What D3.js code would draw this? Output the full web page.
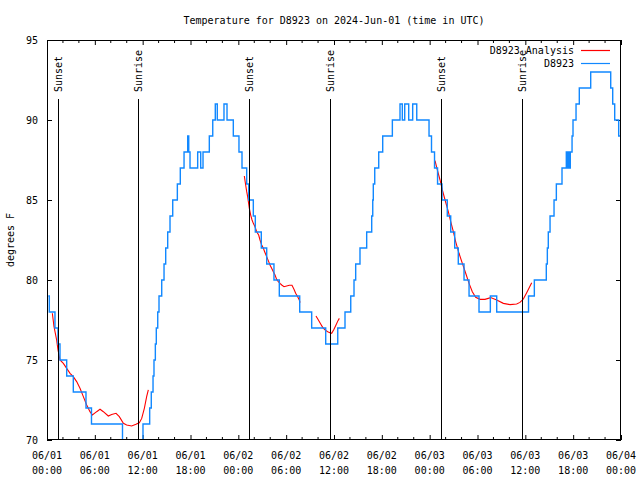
<!DOCTYPE html>
<html><head><meta charset="utf-8">
<script src="https://cdn.jsdelivr.net/npm/d3@7"></script>
<style>
body{margin:0;background:#fff}
svg{display:block;background:#fff}
text{font-family:"DejaVu Sans Mono","Liberation Mono",monospace;font-size:10px;fill:#000}
</style></head><body>
<svg id="c" width="640" height="480"></svg>
<script>
const chartTitle = "Temperature for D8923 on 2024-Jun-01 (time in UTC)";
const yLabel = "degrees F";
const seriesNames = ["D8923 Analysis", "D8923"];
const seriesColors = ["#ff0000", "#1188ff"];
const startTime = "2024-06-01T00:00:00Z";
const endTime = "2024-06-04T00:00:00Z";
const yDomain = [70, 95];
const yTicks = [70, 75, 80, 85, 90, 95];
const sunsetHours = [1.32, 25.37, 49.44];
const sunriseHours = [11.45, 35.52, 59.52];

// Observed D8923 (hours since start, temperature F) - value holds until next change
const obsHours = [0.16,0.29,1.00,1.38,1.63,2.47,3.30,4.89,5.58,9.47,
9.66,9.85,11.67,11.85,12.04,12.88,13.08,13.30,13.42,13.59,
13.71,13.89,14.05,14.39,14.68,14.89,15.14,15.43,15.77,16.35,
16.72,17.19,17.65,17.78,17.94,18.90,19.28,19.57,20.36,20.79,
21.11,21.36,22.20,22.58,23.37,24.08,24.46,25.05,25.30,25.88,
26.13,26.88,27.56,28.47,29.14,31.70,33.20,34.96,36.47,37.38,
38.10,38.51,38.72,39.26,40.10,40.73,40.86,40.93,41.11,41.61,
42.11,43.32,44.28,44.57,44.87,45.37,45.87,46.38,47.92,48.23,
48.61,48.99,49.55,50.21,50.64,51.14,51.59,52.31,52.94,54.19,
55.61,56.41,60.40,61.13,62.63,62.76,62.88,63.10,63.60,63.89,
64.60,65.14,65.27,65.39,65.52,65.64,65.86,65.98,66.36,66.77,
68.20,70.71,70.96,71.21,71.71,71.88];
const obsTemps = [79,78,77,76,75,74,73,72,71,70,
69,68,69,70,71,72,73,74,75,76,
77,78,79,80,81,82,83,84,85,86,
87,88,89,88,87,88,87,88,89,90,
91,90,91,90,89,88,87,86,85,84,
83,82,81,80,79,78,77,76,77,78,
79,80,81,82,83,84,85,86,87,88,
89,90,91,90,91,90,91,90,89,88,
87,86,85,84,83,82,81,80,79,78,
79,78,79,80,81,82,83,84,85,86,
87,88,87,88,87,88,89,90,91,92,
93,92,91,90,89,89];

// Analysis (null = gap)
const anaHours = [0.67,0.88,1.21,1.38,1.63,2.05,2.47,2.89,3.30,3.72,4.14,4.56,4.98,5.39,5.69,6.23,6.65,7.07,7.69,8.11,8.66,9.07,9.58,9.99,10.62,11.16,11.58,11.88,12.21,12.50,12.71,null,
24.75,24.92,25.05,25.17,25.38,25.55,25.72,25.88,26.09,26.30,26.55,26.72,26.93,27.14,27.30,27.47,27.64,27.81,27.97,28.18,28.39,28.60,28.81,29.02,29.23,29.44,29.73,30.06,30.40,30.73,30.98,31.19,31.44,31.65,31.74,null,
33.74,34.04,34.33,34.58,34.87,35.21,35.50,35.71,36.00,36.25,36.50,36.67,null,
48.67,48.96,49.30,49.59,49.93,50.34,50.64,50.97,51.26,51.68,52.10,52.52,52.94,53.35,53.77,54.32,54.94,55.65,56.41,57.24,58.08,58.91,59.33,59.75,60.17,60.80];
const anaTemps = [77.92,77.08,76.25,75.63,75.0,74.79,74.48,74.17,73.96,73.65,73.23,72.71,72.19,71.77,71.56,71.77,71.92,71.77,71.5,71.6,71.67,71.46,71.04,70.94,70.88,70.98,71.08,71.35,71.98,72.71,73.13,null,
86.5,85.94,85.52,85.21,84.48,84.06,83.75,83.54,83.33,83.02,82.81,82.5,82.19,81.98,81.77,81.56,81.35,81.15,80.94,80.73,80.52,80.31,80.04,79.90,79.79,79.69,79.58,79.63,79.67,79.67,79.42,79.17,78.96,78.75,78.58,null,
77.75,77.5,77.25,77.04,76.88,76.77,76.71,76.67,76.92,77.19,77.46,77.60,null,
87.46,86.88,86.25,85.63,85.0,84.27,83.65,83.02,82.4,81.67,81.04,80.42,79.79,79.27,78.92,78.79,78.79,78.9,78.75,78.54,78.46,78.5,78.6,78.81,79.21,79.83];

const W = 640, H = 480;
const m = {left: 47, right: 19, top: 40, bottom: 40};
const svg = d3.select("#c");
const t0 = new Date(startTime);
const toDate = h => new Date(t0.getTime() + h * 3600000);

const x = d3.scaleUtc().domain([t0, new Date(endTime)]).range([m.left, W - m.right]);
const y = d3.scaleLinear().domain(yDomain).range([H - m.bottom, m.top]);

const obs = obsHours.map((h, i) => ({t: toDate(h), v: obsTemps[i]}));
const ana = anaHours.map((h, i) => ({t: h == null ? null : toDate(h), v: anaTemps[i]}));

svg.append("defs").append("clipPath").attr("id", "clip")
  .append("rect").attr("x", m.left).attr("y", m.top)
  .attr("width", W - m.left - m.right).attr("height", H - m.top - m.bottom);

// title
svg.append("text").attr("x", (m.left + W - m.right) / 2).attr("y", 20)
  .attr("dy", "0.35em").attr("text-anchor", "middle").text(chartTitle);

// y label
svg.append("text").attr("transform", `translate(10,${(m.top + H - m.bottom) / 2}) rotate(-90)`)
  .attr("dy", "0.35em").attr("text-anchor", "middle").text(yLabel);

// bottom axis
const xAxisG = svg.append("g").attr("transform", `translate(0,${H - m.bottom})`);
xAxisG.call(d3.axisBottom(x).ticks(d3.utcHour.every(6)).tickSize(-5).tickPadding(0).tickFormat(""));
xAxisG.select(".domain").remove();
xAxisG.selectAll(".tick line").attr("stroke", "#000");
x.ticks(d3.utcHour.every(6)).forEach(d => {
  const tx = svg.append("text").attr("x", x(d)).attr("text-anchor", "middle");
  tx.append("tspan").attr("x", x(d)).attr("y", 455).attr("dy", "0.35em").text(d3.utcFormat("%m/%d")(d));
  tx.append("tspan").attr("x", x(d)).attr("y", 470).attr("dy", "0.35em").text(d3.utcFormat("%H:%M")(d));
});
// minor ticks bottom & top
const minor = x.ticks(d3.utcHour.every(2)).filter(d => d.getUTCHours() % 6 !== 0);
const topAxisG = svg.append("g").attr("transform", `translate(0,${m.top})`);
topAxisG.call(d3.axisTop(x).ticks(d3.utcHour.every(6)).tickSize(-5).tickFormat(""));
topAxisG.select(".domain").remove();
[[H - m.bottom, -3], [m.top, 3]].forEach(([yy, len]) => {
  svg.append("g").selectAll("line").data(minor).join("line")
    .attr("x1", d => x(d)).attr("x2", d => x(d))
    .attr("y1", yy).attr("y2", yy + len).attr("stroke", "#000");
});

// left axis
const yAxisG = svg.append("g").attr("transform", `translate(${m.left},0)`);
yAxisG.call(d3.axisLeft(y).tickValues(yTicks).tickSize(-5).tickPadding(9));
yAxisG.select(".domain").remove();
yAxisG.selectAll("text").style("font-family", null).style("font-size", null);
yAxisG.attr("font-family", null).attr("font-size", null);
// right axis
const yAxisR = svg.append("g").attr("transform", `translate(${W - m.right},0)`);
yAxisR.call(d3.axisRight(y).tickValues(yTicks).tickSize(-5).tickFormat(""));
yAxisR.select(".domain").remove();
svg.selectAll(".tick line").attr("stroke", "#000");

// data lines
const gData = svg.append("g").attr("clip-path", "url(#clip)");
gData.append("path").datum(ana)
  .attr("fill", "none").attr("stroke", seriesColors[0]).attr("stroke-width", 1.1)
  .attr("d", d3.line().defined(d => d.t != null && d.v != null).x(d => x(d.t)).y(d => y(d.v)));
gData.append("path").datum(obs)
  .attr("fill", "none").attr("stroke", seriesColors[1]).attr("stroke-width", 1.4)
  .attr("d", d3.line().curve(d3.curveStepAfter).x(d => x(d.t)).y(d => y(d.v)));

// sunset / sunrise markers
const events = sunsetHours.map(h => ({h, name: "Sunset"}))
  .concat(sunriseHours.map(h => ({h, name: "Sunrise"})));
events.forEach(e => {
  const xx = Math.round(x(toDate(e.h))) + 0.5;
  svg.append("line").attr("x1", xx).attr("x2", xx).attr("y1", 99).attr("y2", H - m.bottom)
    .attr("stroke", "#000").attr("stroke-width", 1);
  svg.append("text").attr("transform", `translate(${xx},92) rotate(-90)`)
    .attr("dy", "0.35em").attr("text-anchor", "start").text(e.name);
});

// border
svg.append("rect").attr("x", m.left + 0.5).attr("y", m.top + 0.5)
  .attr("width", W - m.left - m.right - 1).attr("height", H - m.top - m.bottom - 1)
  .attr("fill", "none").attr("stroke", "#000");

// legend
seriesNames.forEach((name, i) => {
  const ly = 50 + i * 13;
  svg.append("text").attr("x", 574).attr("y", ly).attr("dy", "0.35em")
    .attr("text-anchor", "end").text(name);
  svg.append("line").attr("x1", 581).attr("x2", 610).attr("y1", ly + 0.5).attr("y2", ly + 0.5)
    .attr("stroke", seriesColors[i]).attr("stroke-width", 1.2);
});
</script>
</body></html>
